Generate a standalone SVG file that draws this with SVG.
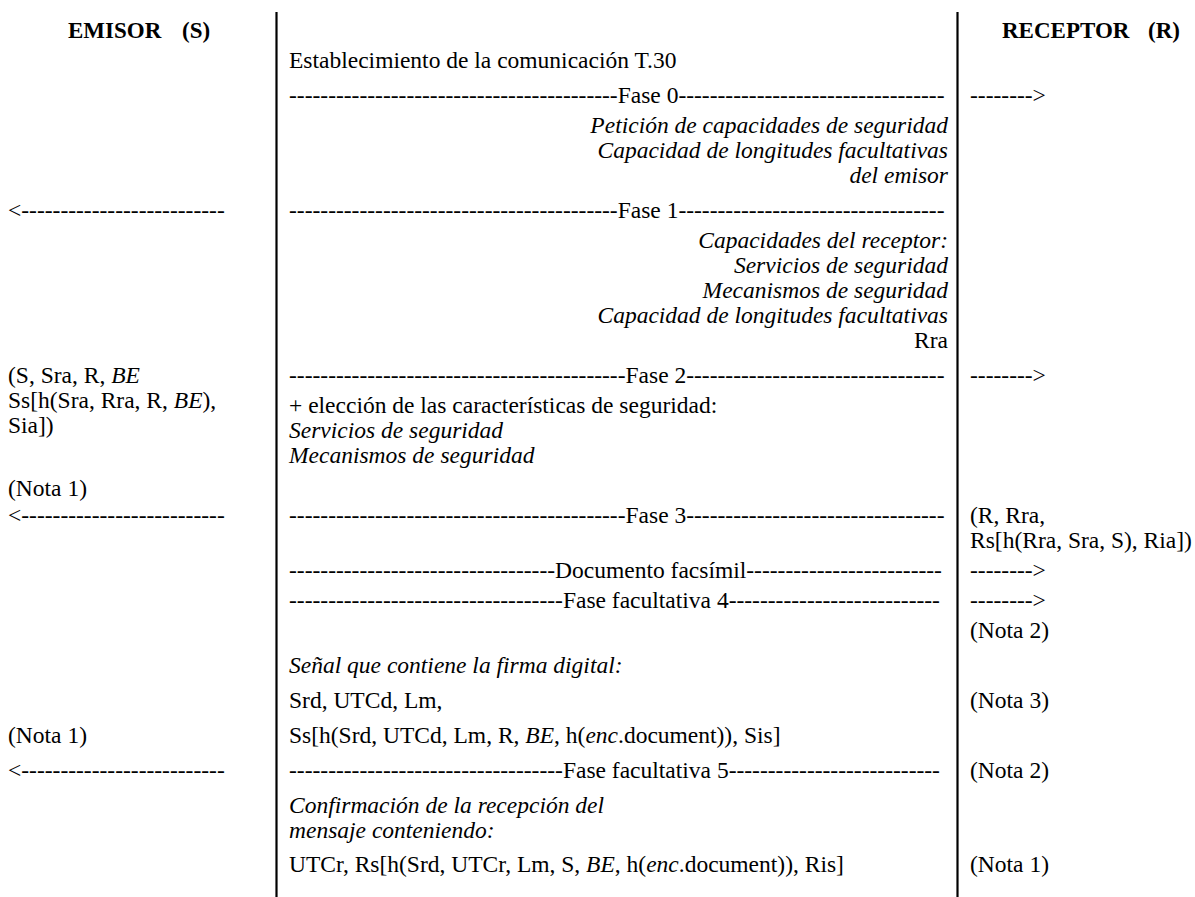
<svg xmlns="http://www.w3.org/2000/svg" width="1195" height="897" viewBox="0 0 1195 897">
<style>
text{font-family:"Liberation Serif","Times New Roman",serif;font-size:23.5px;fill:#000}
.b{font-weight:bold;font-size:23px}
.i{font-style:italic}
.r{text-anchor:end}
.ln{stroke:#000;stroke-width:2.2;fill:none}
</style>
<rect width="1195" height="897" fill="#fff"/>
<g id="lifelines">
<line class="ln" x1="276.5" y1="12" x2="276.5" y2="897"/>
<line class="ln" x1="957.5" y1="12" x2="957.5" y2="897"/>
</g>
<g id="emisor">
<text class="b" x="68" y="38">EMISOR<tspan x="182">(S)</tspan></text>
<text x="8" y="383">(S, Sra, R, <tspan class="i">BE</tspan></text>
<text x="8" y="408">Ss[h(Sra, Rra, R, <tspan class="i">BE</tspan>),</text>
<text x="8" y="433">Sia])</text>
<text x="8" y="496">(Nota 1)</text>
<text x="8" y="743">(Nota 1)</text>
</g>
<g id="receptor">
<text class="b" x="1002" y="38">RECEPTOR<tspan x="1148">(R)</tspan></text>
<text x="970" y="523">(R, Rra,</text>
<text x="970" y="548">Rs[h(Rra, Sra, S), Ria])</text>
<text x="970" y="638">(Nota 2)</text>
<text x="970" y="708">(Nota 3)</text>
<text x="970" y="778">(Nota 2)</text>
<text x="970" y="872">(Nota 1)</text>
</g>
<g id="canal">
<text x="289" y="68">Establecimiento de la comunicación T.30</text>
<text class="i r" x="948" y="133">Petición de capacidades de seguridad</text>
<text class="i r" x="948" y="158">Capacidad de longitudes facultativas</text>
<text class="i r" x="948" y="183">del emisor</text>
<text class="i r" x="948" y="248">Capacidades del receptor:</text>
<text class="i r" x="948" y="273">Servicios de seguridad</text>
<text class="i r" x="948" y="298">Mecanismos de seguridad</text>
<text class="i r" x="948" y="323">Capacidad de longitudes facultativas</text>
<text class="r" x="948" y="348">Rra</text>
<text x="289" y="413">+ elección de las características de seguridad:</text>
<text class="i" x="289" y="438">Servicios de seguridad</text>
<text class="i" x="289" y="463">Mecanismos de seguridad</text>
<text class="i" x="289" y="673">Señal que contiene la firma digital:</text>
<text x="289" y="708">Srd, UTCd, Lm,</text>
<text x="289" y="743">Ss[h(Srd, UTCd, Lm, R, <tspan class="i">BE</tspan>, h(<tspan class="i">enc</tspan>.document)), Sis]</text>
<text class="i" x="289" y="813">Confirmación de la recepción del</text>
<text class="i" x="289" y="838">mensaje conteniendo:</text>
<text x="289" y="872">UTCr, Rs[h(Srd, UTCr, Lm, S, <tspan class="i">BE</tspan>, h(<tspan class="i">enc</tspan>.document)), Ris]</text>
</g>
<g id="connectors">
<text x="289" y="103">------------------------------------------Fase 0----------------------------------</text>
<text x="970" y="103">--------&gt;</text>
<text x="8" y="218">&lt;--------------------------</text>
<text x="289" y="218">------------------------------------------Fase 1----------------------------------</text>
<text x="289" y="383">-------------------------------------------Fase 2---------------------------------</text>
<text x="970" y="383">--------&gt;</text>
<text x="8" y="523">&lt;--------------------------</text>
<text x="289" y="523">-------------------------------------------Fase 3---------------------------------</text>
<text x="289" y="578">----------------------------------Documento facsímil-------------------------</text>
<text x="970" y="578">--------&gt;</text>
<text x="289" y="608">-----------------------------------Fase facultativa 4---------------------------</text>
<text x="970" y="608">--------&gt;</text>
<text x="8" y="778">&lt;--------------------------</text>
<text x="289" y="778">-----------------------------------Fase facultativa 5---------------------------</text>
</g>
</svg>
